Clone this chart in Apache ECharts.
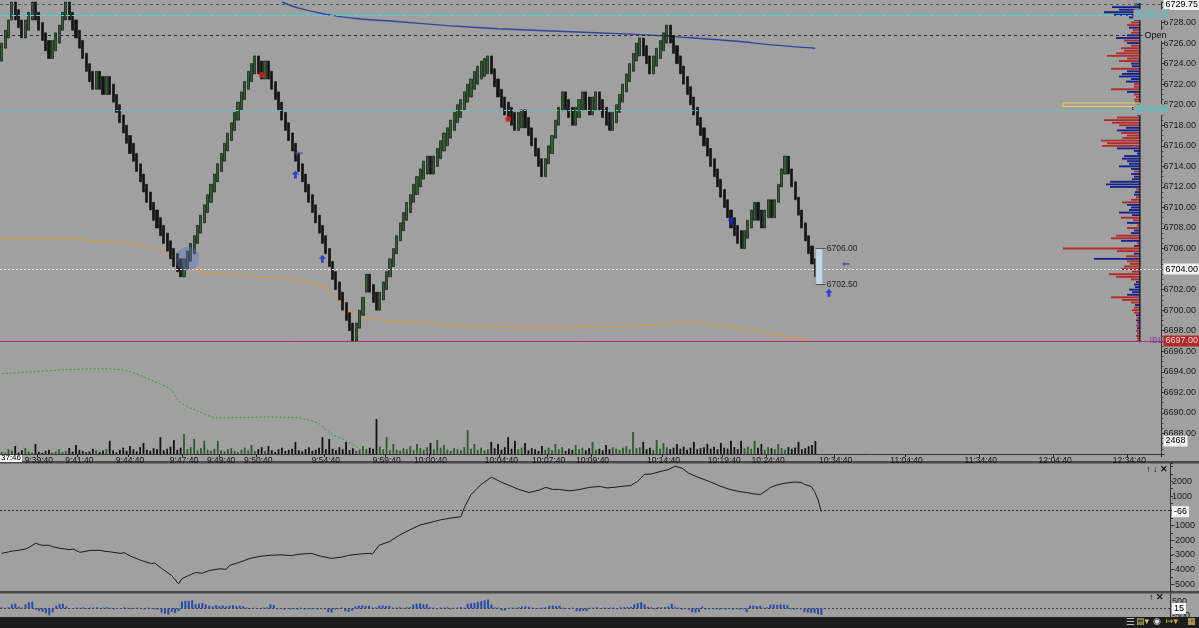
<!DOCTYPE html>
<html><head><meta charset="utf-8">
<script src="https://cdn.jsdelivr.net/npm/echarts/dist/echarts.min.js"></script>
<style>html,body{margin:0;padding:0;background:#a0a0a0;}#c{width:1199px;height:628px;}</style>
</head><body><div id="c"></div>
<script>
// ---------- DATA ----------
const closes = [
6726.0,6727.25,6728.25,6730.0,6728.25,6727.5,6726.5,6728.25,6729.0,6730.0,
6728.25,6727.25,6726.25,6725.25,6724.5,6726.25,6727.0,6727.75,6729.0,6730.0,
6728.25,6727.25,6726.5,6725.5,6724.5,6723.25,6722.25,6721.5,6723.25,6721.5,
6721.0,6722.75,6721.0,6720.25,6719.25,6718.25,6717.25,6716.25,6715.25,6714.5,
6713.5,6712.5,6711.5,6710.5,6709.75,6708.75,6708.0,6707.25,6706.5,6705.75,
6705.0,6704.25,6703.75,6703.25,6705.0,6705.75,6706.5,6707.25,6708.25,6709.25,
6710.25,6711.25,6712.25,6713.25,6714.25,6715.25,6716.25,6717.25,6718.25,6719.25,
6720.25,6721.25,6722.25,6723.25,6724.0,6724.75,6723.0,6722.5,6724.25,6722.5,
6721.5,6720.5,6719.5,6718.5,6717.5,6716.5,6715.5,6714.5,6713.5,6712.5,
6711.5,6710.5,6709.5,6708.5,6707.5,6706.5,6705.5,6704.25,6703.0,6702.0,
6701.0,6700.0,6699.0,6698.0,6697.0,6698.75,6700.0,6701.25,6703.5,6701.75,
6700.75,6700.0,6701.75,6702.75,6703.75,6705.0,6706.0,6707.25,6708.5,6709.5,
6710.5,6711.25,6712.25,6713.0,6713.75,6714.5,6715.0,6713.25,6715.0,6715.75,
6716.5,6717.25,6717.75,6718.5,6719.25,6720.0,6720.5,6721.25,6722.0,6722.5,
6723.25,6723.75,6724.25,6724.5,6724.75,6723.0,6721.75,6720.75,6719.75,6719.0,
6718.5,6718.0,6717.5,6719.25,6719.5,6717.75,6717.0,6716.0,6715.0,6714.0,
6713.0,6714.75,6716.0,6717.0,6718.5,6719.75,6721.25,6719.5,6718.75,6718.0,
6719.75,6720.5,6721.25,6719.5,6719.0,6720.75,6721.25,6719.5,6718.75,6718.0,
6717.5,6719.25,6720.0,6721.0,6722.0,6723.0,6724.0,6725.0,6726.0,6726.5,
6724.75,6724.0,6723.0,6724.75,6725.5,6726.25,6727.0,6727.75,6726.0,6725.0,
6724.0,6723.0,6722.0,6721.0,6720.0,6719.0,6718.0,6717.0,6716.0,6715.0,
6714.0,6713.0,6712.0,6711.0,6710.0,6709.0,6708.0,6707.25,6706.5,6706.0,
6707.75,6708.75,6709.75,6710.5,6708.75,6708.0,6709.75,6710.75,6709.0,6710.75,
6712.25,6713.75,6715.0,6713.25,6712.0,6710.75,6709.25,6708.0,6706.75,6705.5,
6704.5,6703.25
];
const BRICK = 1.75; // renko brick size (points)

const volumes = [
400,250,900,600,1500,300,700,1100,500,300,
1900,400,250,600,800,300,500,900,350,600,
1150,450,1700,800,600,350,500,1000,700,400,
650,900,2500,700,300,800,1200,600,1500,900,
500,1300,2100,800,600,1100,900,3200,700,1000,
1400,2650,800,1200,3800,900,1300,2850,700,1100,
2500,800,600,1000,2500,700,500,900,1100,600,
400,800,1200,700,1700,500,900,1300,600,1500,
700,400,900,1200,600,800,1000,2300,700,500,
900,1300,600,800,1200,3200,900,2850,1000,700,
1300,900,2300,700,1100,600,800,1500,900,1200,
1000,6650,1400,900,3200,700,1900,800,600,1100,
900,1500,700,1900,1100,800,1300,2100,900,2650,
1200,1700,800,600,1100,900,700,1300,4550,1000,
1900,800,1200,700,900,2300,1100,1900,800,1300,
3200,1000,2500,900,1200,2100,700,1100,900,600,
1500,800,1200,700,1900,900,1300,600,1000,800,
1700,900,1200,700,1100,2300,800,1000,700,1700,
900,1300,1000,800,1200,1500,900,4200,1100,1300,
2300,900,1200,800,2650,1000,2100,1300,900,1200,
1900,1000,1400,800,1200,2300,900,1100,1300,1900,
1000,1400,900,2100,1200,1000,2500,1300,900,2500,
1100,1400,1000,2500,1200,1900,800,1300,1100,900,
1900,1100,800,1300,1000,1200,2300,900,1100,1500,
1700,2468
];

const deltas = [
80,50,90,300,350,120,60,300,450,500,
-100,-200,-250,-350,-500,-300,200,300,350,150,
40,-30,60,50,80,-40,70,60,90,40,
60,80,50,-60,-40,30,70,50,-50,40,
60,-30,-70,50,40,-60,-80,-300,-400,-450,
-250,-350,-200,500,560,560,600,300,350,400,
300,200,150,250,180,220,150,200,240,170,
200,150,60,-40,50,30,-50,60,80,300,
250,-60,-40,-80,40,-60,-50,-90,50,-70,
-40,-60,40,-80,-50,-60,-280,-300,-80,-50,
60,-200,-250,-180,150,200,220,180,200,60,
80,200,230,180,200,70,60,90,50,80,
100,300,350,380,300,320,90,60,-50,70,
60,80,-60,50,70,90,60,350,380,400,
500,550,600,650,300,80,60,-150,-140,50,
60,40,90,140,160,130,60,-50,40,70,
80,200,220,180,200,60,40,-60,50,-200,
-220,-180,-200,50,60,80,-40,60,50,70,
60,-50,80,90,100,120,300,400,450,300,
120,80,-60,90,80,100,150,350,100,60,
-80,-60,-100,-280,-300,-250,150,-70,-60,-50,
-60,-80,-40,-70,-60,-90,-50,-80,-60,-280,
200,220,180,200,60,80,280,300,260,300,
280,240,-60,-80,-50,-70,-280,-300,-320,-350,
-420,-480
];

// cumulative delta [barIndex, value]
const cumDelta = [
[0,-2900],[2,-2800],[3,-2750],[5,-2690],[7,-2600],[8,-2500],[10,-2200],[11,-2300],[12,-2350],[14,-2350],[15,-2450],[17,-2550],[20,-2650],[21,-2600],[23,-2830],
[26,-2700],[29,-2690],[30,-2750],[32,-2800],[35,-2900],[36,-2850],[38,-3100],[41,-3380],[44,-3600],[45,-3550],[47,-3930],[50,-4410],[51,-4700],
[52,-4970],[53,-4620],[55,-4400],[57,-4200],[59,-4250],[61,-4070],[64,-3950],[66,-3980],[67,-3720],[70,-3500],[73,-3240],[76,-3100],
[79,-3030],[82,-3000],[85,-3050],[88,-2950],[91,-2900],[94,-3100],[97,-3240],[100,-3150],[102,-3030],[105,-2950],
[108,-2900],[109,-2950],[111,-2340],[114,-2100],[117,-1650],[120,-1300],[123,-970],[126,-800],[129,-620],[132,-500],[135,-410],
[136,200],[138,1100],[141,1800],[144,2280],[147,1930],[150,1650],[152,1450],[155,1240],[158,1400],[160,1590],
[162,1450],[164,1450],[167,1350],[170,1450],[173,1600],[176,1650],[178,1550],[180,1590],[182,1650],[185,1720],
[187,2000],[189,2480],[191,2500],[194,2690],[196,2800],[198,3030],[200,2900],[202,2550],[205,2250],[208,2000],
[211,1700],[214,1450],[217,1300],[219,1240],[221,1150],[223,1100],[225,1400],[226,1590],[228,1750],[230,1860],
[233,1950],[235,1930],[236,1800],[238,1650],[239,1300],[240,760],[241,-66]
];

// VWAP (blue) [barIndex, price]
const vwap = [[83,6730.0],[88,6729.4],[97,6728.75],[105,6728.4],[117,6728.1],[132,6727.7],[147,6727.4],[161,6727.2],[176,6727.0],[191,6726.8],[205,6726.5],[217,6726.2],[229,6725.8],[241,6725.5]];
// lower band (orange)
const lowerBand = [[0,6706.9],[14,6707.0],[29,6706.7],[41,6706.3],[48,6705.7],[52,6705.1],[55,6704.3],[58,6703.8],[67,6703.5],[76,6703.3],[85,6703.1],[92,6702.6],[97,6701.9],[101,6700.4],[105,6699.6],[111,6699.1],[123,6698.8],[138,6698.5],[152,6698.3],[170,6698.3],[188,6698.5],[202,6698.8],[211,6698.6],[223,6698.0],[235,6697.3],[241,6696.9]];
// green dotted line
const greenLine = [[0,6693.8],[19,6694.2],[29,6694.3],[37,6694.1],[47,6692.8],[50,6692.3],[53,6691.0],[58,6690.2],[64,6689.5],[78,6689.6],[88,6689.5],[94,6688.95],[97,6688.1],[102,6687.3],[106,6686.5],[108,6685.8]];

const redDots = [[77,6722.9],[150,6718.6]];
const blueArrows = [[87,6713.2],[95,6705.0],[216,6708.7],[245,6701.7]];
const leftArrows = [[88,6715.3],[250,6704.5]];
const highlight = [[55,6705.0]];
const projection = [[242,6706.0,6702.5]];

const tickLabels = [[11,'9:39:40'],[23,'9:41:40'],[38,'9:44:40'],[54,'9:47:40'],[65,'9:49:40'],[76,'9:50:40'],[96,'9:54:40'],[114,'9:59:40'],[127,'10:00:40'],[148,'10:04:40'],[162,'10:07:40'],[175,'10:09:40'],[196,'10:14:40'],[214,'10:19:40'],[227,'10:24:40'],[247,'10:34:40'],[268,'11:04:40'],[290,'11:34:40'],[312,'12:04:40'],[334,'12:34:40']];

// key price levels
const DAY_HIGH = 6729.75, IB_HIGH = 6728.75, OPEN_PX = 6726.75, MID_PX = 6719.50, LAST_PX = 6704.00, IB_LOW = 6697.00;
const LAST_VOL = 2468, LAST_CUM = -66, LAST_DELTA = 15;

// volume profile, from PROFILE_TOP down in PROFILE_STEP
const PROFILE_TOP = 6729.75, PROFILE_STEP = 0.25, PROFILE_MARK = 6720.0;
const profileVol = [60,280,210,360,260,110,60,90,130,110,70,90,130,240,160,130,90,190,160,240,
330,130,210,90,80,290,130,180,210,90,140,60,60,290,130,60,40,60,50,30,
80,80,40,30,230,360,280,210,140,230,190,130,180,390,330,380,230,60,30,160,
180,130,110,210,90,60,90,60,80,300,340,300,40,50,60,40,90,180,130,90,
110,210,80,190,70,130,30,130,60,90,240,290,190,30,60,770,230,60,140,460,
130,100,160,190,80,310,240,90,40,60,50,110,80,130,290,180,90,50,60,80,
60,40,30,40,30,40,30,40,30,40,30,30];
const profileSide = 'BBBBBBBSSBSSBBSBSSSSSSSBBSBBBBBSSSBSSSSBBBBBSSSSBBSSSSSSBBBBBBBBBSBBBBBBSBBSSSBBBBBSSBSSBBSSBSDSSBSBSSSSSSSSBBBBBBSSSBSSSBSBSSBSSSS';

// ---------- BUILD ----------
const TOTAL = 344;
const cats = new Array(TOTAL).fill('');
tickLabels.forEach(([i, t]) => { cats[i] = t; });

const dirs = [];
const candles = closes.map((c, i) => {
  let up;
  if (i === 0) up = true;
  else if (c === closes[i - 1]) up = dirs[i - 1];
  else up = c > closes[i - 1];
  dirs.push(up);
  const o = up ? c - BRICK : c + BRICK;
  return [o, c, Math.min(o, c), Math.max(o, c)];
});
const volData = volumes.map((v, i) => ({ value: v, itemStyle: { color: dirs[i] ? '#2c5a2c' : '#111' } }));
const profileData = profileVol.map((v, k) => [PROFILE_TOP - k * PROFILE_STEP, v, profileSide[k] === 'B' ? 1 : (profileSide[k] === 'D' ? 2 : 0)]);
profileData.push([PROFILE_MARK, Math.max(...profileVol), 3]);

const FONT = '"Liberation Sans", Arial, sans-serif';
const HIDDEN = { color: 'rgba(0,0,0,0)', width: 0 };
const lbl = (txt, color, bg, dist) => ({ show: true, position: 'end', formatter: txt, color: color, backgroundColor: bg || 'transparent', padding: [1, 2], fontSize: 9, fontFamily: FONT, distance: dist, opacity: 1 });
const labelOnly = () => (idx, val) => val !== '';
const levelLine = (name, y, lineStyle, label) => ({ type: 'line', name: name, xAxisIndex: 0, yAxisIndex: 0, data: [], silent: true, z: 3,
  markLine: { silent: true, symbol: 'none', animation: false, data: [ { yAxis: y, lineStyle: lineStyle, label: label } ] } });

const chart = echarts.init(document.getElementById('c'));
const option = {
  animation: false,
  backgroundColor: '#a0a0a0',
  grid: [
    { left: 0, right: 29, top: 2, height: 452 },
    { left: 0, right: 29, top: 463.7, height: 127.9 },
    { left: 0, right: 29, top: 593.5, height: 23.1 },
    { left: 1040, right: 59, top: 2, height: 452 }
  ],
  xAxis: [
    { gridIndex: 0, type: 'category', data: cats, boundaryGap: true,
      axisLine: { show: true, lineStyle: { color: '#3a3a3a' } },
      axisTick: { show: true, interval: labelOnly(), length: 3, lineStyle: { color: '#222' } },
      axisLabel: { interval: labelOnly(), fontSize: 8.5, color: '#111', margin: 2, fontFamily: FONT },
      splitLine: { show: false } },
    { gridIndex: 1, type: 'category', data: cats, show: false },
    { gridIndex: 2, type: 'category', data: cats, show: false },
    { gridIndex: 3, type: 'value', min: 0, max: 1000, inverse: true, show: false }
  ],
  yAxis: [
    { gridIndex: 0, type: 'value', position: 'right', min: 6686, max: 6730, interval: 2,
      axisLine: { show: true, lineStyle: { color: '#333' } },
      axisTick: { show: true, length: 3, lineStyle: { color: '#333' } },
      minorTick: { show: true, splitNumber: 4, length: 2, lineStyle: { color: '#444' } },
      splitLine: { show: false },
      axisLabel: { formatter: v => v.toFixed(2), fontSize: 9, color: '#1a1a1a', margin: 2, showMinLabel: false, showMaxLabel: false, fontFamily: FONT } },
    { gridIndex: 0, type: 'value', min: 0, max: 85900, show: false },
    { gridIndex: 1, type: 'value', position: 'right', min: -5500, max: 3200, interval: 500,
      axisLine: { show: true, lineStyle: { color: '#333' } },
      axisTick: { show: true, length: 3, lineStyle: { color: '#333' } },
      splitLine: { show: false },
      axisLabel: { formatter: v => (v % 1000 === 0 && v <= 2000 && v >= -5000) ? String(v) : '', fontSize: 9, color: '#1a1a1a', margin: 2, fontFamily: FONT } },
    { gridIndex: 2, type: 'value', position: 'right', min: -600, max: 1100, interval: 100,
      axisLine: { show: true, lineStyle: { color: '#333' } },
      axisTick: { show: false },
      splitLine: { show: false },
      axisLabel: { formatter: v => (v === 500 || v === -500) ? String(v) : '', fontSize: 9, color: '#1a1a1a', margin: 2, fontFamily: FONT } },
    { gridIndex: 3, type: 'value', min: 6686, max: 6730, show: false }
  ],
  series: [
    { type: 'bar', name: 'vol', xAxisIndex: 0, yAxisIndex: 1, data: volData, barWidth: 1.8, silent: true,
      markLine: { silent: true, symbol: 'none', data: [ { yAxis: LAST_VOL, lineStyle: HIDDEN, label: lbl(String(LAST_VOL), '#000', '#f4f4f4', 2) } ] } },
    { type: 'custom', name: 'profile', xAxisIndex: 3, yAxisIndex: 4, data: profileData, silent: true,
      renderItem: (params, api) => {
        const price = api.value(0), vol = api.value(1), side = api.value(2);
        const top = api.coord([0, price + PROFILE_STEP / 2]);
        const bot = api.coord([0, price - PROFILE_STEP / 2]);
        const end = api.coord([vol, price]);
        const h = bot[1] - top[1];
        if (side === 3) {
          return { type: 'rect', shape: { x: end[0], y: top[1] - 0.5, width: top[0] - end[0], height: h + 1 },
                   style: { fill: null, stroke: '#e6d25a', lineWidth: 1 } };
        }
        const col = side === 1 ? '#14208c' : (side === 2 ? '#751515' : '#b02a2a');
        return { type: 'group', children: [
          { type: 'rect', shape: { x: end[0], y: top[1] + 0.35, width: top[0] - end[0], height: h - 0.7 }, style: { fill: col } },
          { type: 'rect', shape: { x: top[0] - 1, y: top[1], width: 1.6, height: h }, style: { fill: '#1e1e2a' } }
        ] };
      } },
    levelLine('dayHigh', DAY_HIGH, { color: '#555', type: [3, 3], width: 1 }, lbl(DAY_HIGH.toFixed(2), '#000', '#f4f4f4', 2)),
    levelLine('ibHigh', IB_HIGH, { color: '#2fe0e6', type: [4, 2], width: 1.2 }, lbl(IB_HIGH.toFixed(2), '#2fd0d6', '#a0a0a0', -28)),
    levelLine('open', OPEN_PX, { color: '#2a2a2a', type: [3, 3], width: 1 }, lbl('Open', '#111', '#a0a0a0', -19)),
    levelLine('mid', MID_PX, { color: '#3ad6d6', type: [2, 2], width: 1 }, lbl(MID_PX.toFixed(2), '#2fd0d6', '#a0a0a0', -28)),
    levelLine('last', LAST_PX, { color: '#f0f0f0', type: [2, 2], width: 1 }, lbl(LAST_PX.toFixed(2), '#000', '#f4f4f4', 2)),
    levelLine('ibLow', IB_LOW, { color: '#b0306a', type: 'solid', width: 1 }, lbl(IB_LOW.toFixed(2), '#f2dada', '#b22a2a', 2)),
    levelLine('iblTag', IB_LOW, HIDDEN, lbl('IBL', '#8a3aaa', null, -14)),
    { type: 'line', name: 'green', xAxisIndex: 0, yAxisIndex: 0, data: greenLine, smooth: 0.3, showSymbol: false, silent: true,
      lineStyle: { color: '#3c9a3c', width: 1, type: [2, 2] } },
    { type: 'line', name: 'lower', xAxisIndex: 0, yAxisIndex: 0, data: lowerBand, smooth: 0.3, showSymbol: false, silent: true,
      lineStyle: { color: '#d49a3c', width: 1 } },
    { type: 'line', name: 'vwap', xAxisIndex: 0, yAxisIndex: 0, data: vwap, smooth: 0.3, showSymbol: false, silent: true,
      lineStyle: { color: '#33449a', width: 1.4 } },
    { type: 'candlestick', name: 'price', xAxisIndex: 0, yAxisIndex: 0, data: candles, barWidth: 2.6, silent: true, z: 4,
      itemStyle: { color: '#2f612f', color0: '#151515', borderColor: '#0a0a0a', borderColor0: '#0a0a0a', borderWidth: 0.6 } },
    { type: 'custom', name: 'projection', xAxisIndex: 0, yAxisIndex: 0, data: projection, silent: true, z: 5,
      renderItem: (params, api) => {
        const a = api.coord([api.value(0), api.value(1)]);
        const b = api.coord([api.value(0), api.value(2)]);
        const x = a[0] - 3;
        return { type: 'group', children: [
          { type: 'rect', shape: { x: x, y: a[1], width: 7, height: b[1] - a[1] }, style: { fill: '#c4d6e6', stroke: '#8796a6', lineWidth: 0.6 } },
          { type: 'line', shape: { x1: x, y1: a[1], x2: x + 10, y2: a[1] }, style: { stroke: '#555', lineWidth: 1 } },
          { type: 'line', shape: { x1: x, y1: b[1], x2: x + 10, y2: b[1] }, style: { stroke: '#555', lineWidth: 1 } },
          { type: 'text', style: { x: x + 11, y: a[1], text: api.value(1).toFixed(2), fill: '#222', font: '8.5px ' + FONT, verticalAlign: 'middle' } },
          { type: 'text', style: { x: x + 11, y: b[1], text: api.value(2).toFixed(2), fill: '#222', font: '8.5px ' + FONT, verticalAlign: 'middle' } }
        ] };
      } },
    { type: 'scatter', xAxisIndex: 0, yAxisIndex: 0, data: highlight, symbol: 'circle', symbolSize: 24, silent: true, z: 6,
      itemStyle: { color: 'rgba(95,110,200,0.45)' } },
    { type: 'scatter', xAxisIndex: 0, yAxisIndex: 0, data: redDots, symbol: 'circle', symbolSize: 6, silent: true, z: 6,
      itemStyle: { color: '#e51c1c' } },
    { type: 'scatter', xAxisIndex: 0, yAxisIndex: 0, data: blueArrows, symbol: 'path://M5 0 L10 5 L7 5 L7 10 L3 10 L3 5 L0 5 Z', symbolSize: [7, 8], silent: true, z: 6,
      itemStyle: { color: '#1428d8' } },
    { type: 'scatter', xAxisIndex: 0, yAxisIndex: 0, data: leftArrows, symbol: 'path://M0 3 L4 0 L4 2 L10 2 L10 4 L4 4 L4 6 Z', symbolSize: [8, 5], silent: true, z: 6,
      itemStyle: { color: '#4a4ea8' } },
    { type: 'line', name: 'cumDelta', xAxisIndex: 1, yAxisIndex: 2, data: cumDelta, showSymbol: false, silent: true,
      lineStyle: { color: '#1a1a1a', width: 1 },
      markLine: { silent: true, symbol: 'none', data: [
        { yAxis: 0, lineStyle: { color: '#333', type: [2, 2], width: 1 }, label: { show: false } },
        { yAxis: LAST_CUM, lineStyle: HIDDEN, label: lbl(String(LAST_CUM), '#000', '#f4f4f4', 2) }
      ] } },
    { type: 'bar', name: 'delta', xAxisIndex: 2, yAxisIndex: 3, data: deltas, barWidth: 2, silent: true,
      itemStyle: { color: '#2b4ca6' },
      markLine: { silent: true, symbol: 'none', data: [
        { yAxis: 0, lineStyle: { color: '#444', type: [2, 2], width: 1 }, label: lbl(String(LAST_DELTA), '#000', '#f4f4f4', 2) }
      ] } }
  ],
  graphic: [
    { type: 'rect', left: 0, top: 461, shape: { width: 1199, height: 2.5 }, style: { fill: '#4a4a4a' }, silent: true },
    { type: 'rect', left: 0, top: 591, shape: { width: 1199, height: 2.5 }, style: { fill: '#4a4a4a' }, silent: true },
    { type: 'rect', left: 0, top: 617, shape: { width: 1199, height: 11 }, style: { fill: '#1d1d1d' }, silent: true },
    { type: 'text', left: 0, top: 454, style: { text: '37:46', fill: '#000', backgroundColor: '#f4f4f4', padding: [0, 1], font: '8px ' + FONT } },
    { type: 'text', left: 1146, top: 465, style: { text: '\u2191 \u2193 \u2715', fill: '#111', font: 'bold 9px ' + FONT } },
    { type: 'text', left: 1149, top: 593, style: { text: '\u2191 \u2715', fill: '#111', font: 'bold 9px ' + FONT } },
    { type: 'text', left: 1126, top: 617, style: { text: '\u2630', fill: '#bbb', font: '10px "DejaVu Sans"' } },
    { type: 'text', left: 1136, top: 617, style: { text: '\u25A4\u25BE', fill: '#d8c070', font: '9px "DejaVu Sans"' } },
    { type: 'text', left: 1153, top: 617, style: { text: '\u25C9', fill: '#ddd', font: '9px "DejaVu Sans"' } },
    { type: 'text', left: 1166, top: 617, style: { text: '\u21A6\u25BE', fill: '#e0b040', font: '9px "DejaVu Sans"' } },
    { type: 'text', left: 1187, top: 617, style: { text: '\u25A6', fill: '#e0c060', font: '9px "DejaVu Sans"' } }
  ]
};
chart.setOption(option);
</script>
</body></html>
